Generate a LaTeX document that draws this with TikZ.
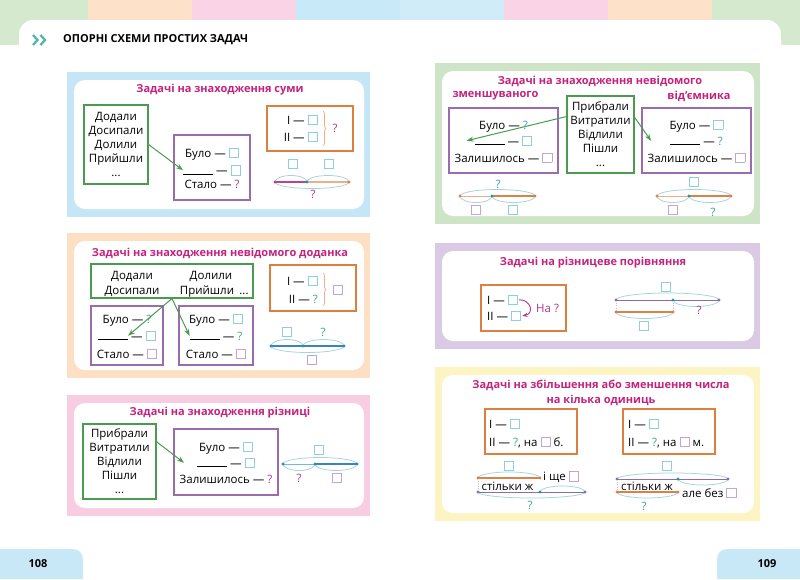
\documentclass[tikz,border=0pt]{standalone}
\usepackage{fontspec}
\setmainfont{Open Sans}
\usetikzlibrary{arrows.meta,decorations.pathreplacing,calc}
\definecolor{ttl}{HTML}{C4237D}
\definecolor{gbox}{HTML}{4A9B50}
\definecolor{pbox}{HTML}{9A6CAB}
\definecolor{obox}{HTML}{DD7F3E}
\definecolor{sqt}{HTML}{8ECFD9}
\definecolor{sqp}{HTML}{C7A3D3}
\definecolor{qg}{HTML}{3DA48E}
\definecolor{qb}{HTML}{3A9FC4}
\definecolor{qm}{HTML}{B0368B}
\definecolor{arcc}{HTML}{A2D4DC}
\definecolor{bracec}{HTML}{EDB08A}
\definecolor{fblue}{HTML}{C5E6F7}
\definecolor{fpeach}{HTML}{FDDFC3}
\definecolor{fpink}{HTML}{F8CDE2}
\definecolor{fgreen}{HTML}{CDE4C7}
\definecolor{flav}{HTML}{DBCAE5}
\definecolor{fyel}{HTML}{FCF5C3}
\definecolor{sgreen}{HTML}{D4E9CE}
\definecolor{sorange}{HTML}{FDE1C8}
\definecolor{spink}{HTML}{F9D4E6}
\definecolor{sblue}{HTML}{C8E9F8}
\definecolor{chev}{HTML}{4DB8A6}
\definecolor{tabc}{HTML}{C8E8F8}
\definecolor{lmag}{HTML}{C0408E}
\definecolor{lpeach}{HTML}{EFAE85}
\definecolor{lblue}{HTML}{3A82C4}
\definecolor{lblue2}{HTML}{7BB6DF}
\definecolor{lorange}{HTML}{DD8145}
\definecolor{lpurp}{HTML}{8F6BAA}
\definecolor{dteal}{HTML}{1C9AA3}
\newcommand\sqT{{\color{sqt}\setlength\fboxsep{0pt}\setlength\fboxrule{0.8pt}\fbox{\rule{0pt}{8.5pt}\hspace{8.5pt}}}}
\newcommand\sqP{{\color{sqp}\setlength\fboxsep{0pt}\setlength\fboxrule{0.8pt}\fbox{\rule{0pt}{8.5pt}\hspace{8.5pt}}}}
\newcommand\qG{\textcolor{qg}{?}}
\newcommand\qB{\textcolor{qb}{?}}
\newcommand\qM{\textcolor{qm}{?}}
\newcommand\blankln{\rule{30pt}{0.6pt}}
\newcommand\bodyf{\fontsize{11.5}{13.5}\selectfont}
\newcommand\ttlf{\fontsize{11}{13}\selectfont\bfseries}
\newcommand\grnf{\fontsize{11.5}{14}\selectfont}
\begin{document}
\begin{tikzpicture}[x=1pt,y=-1pt,
  gbx/.style={draw=gbox,line width=1.1pt,inner sep=0pt,align=center,font=\grnf},
  pbx/.style={draw=pbox,line width=1.1pt,inner sep=0pt},
  obx/.style={draw=obox,line width=1.1pt,inner sep=0pt},
  ttlnode/.style={text=ttl,font=\ttlf,inner sep=0pt},
  tx/.style={font=\bodyf,inner sep=0pt,anchor=base},
  txw/.style={font=\bodyf,inner sep=0pt,anchor=base west},
  txe/.style={font=\bodyf,inner sep=0pt,anchor=base east},
  sqn/.style={draw=sqt,line width=0.8pt,minimum size=9.5pt,inner sep=0pt},
  sqpn/.style={draw=sqp,line width=0.8pt,minimum size=9.5pt,inner sep=0pt},
  qn/.style={font=\bodyf,inner sep=0pt},
  arcl/.style={draw=arcc,line width=0.75pt},
  garr/.style={draw=gbox,line width=1pt,-{Stealth[length=7pt,width=5pt]}},
  marr/.style={draw=qm,line width=0.9pt,-{Stealth[length=5pt,width=4pt]}},
  seg/.style={line width=1.6pt},
  segthin/.style={line width=0.9pt},
  dotl/.style={draw=gray!50,line width=0.6pt,dotted},
  brc/.style={decorate,decoration={brace,amplitude=3pt},draw=bracec,line width=0.7pt},
]
\useasboundingbox (0,0) rectangle (800,579);
\fill[white] (0,0) rectangle (800,579);
% header strips
\fill[sgreen] (0,0) rectangle (88,45);
\fill[sorange] (88,0) rectangle (192,21);
\fill[spink] (192,0) rectangle (296,21);
\fill[sblue] (296,0) rectangle (400,21);
\fill[sblue!85!white] (400,0) rectangle (504,21);
\fill[spink] (504,0) rectangle (608,21);
\fill[sorange] (608,0) rectangle (712,21);
\fill[sgreen] (712,0) rectangle (800,45);
\fill[white,rounded corners=14pt] (19,20) rectangle (781,120);
\draw[chev,line width=2.2pt] (33,35) -- (37.5,40) -- (33,45);
\draw[chev,line width=2.2pt] (40.5,35) -- (45,40) -- (40.5,45);
\node[anchor=west,font=\fontsize{11}{13}\selectfont\bfseries,inner sep=0pt] (hdr) at (63,40) {ОПОРНІ СХЕМИ ПРОСТИХ ЗАДАЧ};
% page tabs
\fill[tabc] (0,579) -- (0,549) -- (73,549) arc[start angle=90,end angle=0,radius=10pt] -- (83,579) -- cycle;
\fill[tabc] (800,579) -- (800,549) -- (727,549) arc[start angle=90,end angle=180,radius=10pt] -- (717,579) -- cycle;
\node[font=\fontsize{11}{13}\selectfont\bfseries,inner sep=0pt] (pn1) at (38,564) {108};
\node[font=\fontsize{11}{13}\selectfont\bfseries,inner sep=0pt] (pn2) at (767,564) {109};

% ===== Panel 1 =====
\fill[fblue] (67,72) rectangle (370,217);
\fill[white,rounded corners=11pt] (74,80) rectangle (364,209);
\node[ttlnode] (t1) at (220,90) {Задачі на знаходження суми};
\node[gbx,minimum width=64pt,minimum height=79pt] (G1) at (116,144.5) {Додали\\Досипали\\Долили\\Прийшли\\...};
\node[pbx,minimum width=76pt,minimum height=65pt] (P1) at (212,167.5) {};
\node[tx] (p1a) at (212,157) {Було — \sqT};
\node[tx] (p1b) at (212,174.5) {\blankln{} — \sqT};
\node[tx] (p1c) at (212,188) {Стало — \qM};
\draw[garr] (G1.east) -- (p1b.west);
\node[obx,minimum width=86pt,minimum height=45pt] (O1) at (310,128.5) {};
\node[txe] (o1a) at (318,124) {I — \sqT};
\node[txe] (o1b) at (318,141) {II — \sqT};
\draw[brc] (323,111) -- (323,146);
\node[qn,text=qm] (o1q) at (335,128) {?};
\node[sqn] (s1q1) at (293,164) {};
\node[sqn] (s1q2) at (329,164) {};
\coordinate (s1a) at (275,182); \coordinate (s1m) at (307,182); \coordinate (s1b) at (349,182);
\draw[arcl] (s1a) arc[start angle=180,end angle=0,x radius=16pt,y radius=6.5pt];
\draw[arcl] (s1m) arc[start angle=180,end angle=0,x radius=21pt,y radius=6.5pt];
\draw[arcl] (s1b) arc[start angle=0,end angle=-180,x radius=37pt,y radius=6.5pt];
\draw[seg,draw=lmag] (s1a) -- (s1m);
\draw[seg,draw=lpeach] (s1m) -- (s1b);
\fill[lmag] (s1a) circle[radius=1.7pt];
\fill[dteal] (s1m) circle[radius=1.7pt];
\fill[lorange] (s1b) circle[radius=1.7pt];
\node[qn,text=qm] (s1q) at (313,194) {?};

% ===== Panel 2 =====
\fill[fpeach] (67,233) rectangle (370,378);
\fill[white,rounded corners=11pt] (74,241) rectangle (364,370);
\node[ttlnode] (t2) at (220,253) {Задачі на знаходження невідомого доданка};
\node[gbx,minimum width=162pt,minimum height=34pt] (G2) at (172,281) {};
\node[tx] (g2a) at (132,279) {Додали};
\node[tx] (g2b) at (132,294) {Досипали};
\node[tx] (g2c) at (211,279) {Долили};
\node[tx] (g2d) at (207,294) {Прийшли};
\node[tx] (g2e) at (244,294) {...};
\node[pbx,minimum width=72pt,minimum height=59pt] (PA) at (127,335.5) {};
\node[tx] (pa1) at (127,323) {Було — \qG};
\node[tx] (pa2) at (127,340) {\blankln{} — \sqT};
\node[tx] (pa3) at (127,358) {Стало — \sqP};
\node[pbx,minimum width=74pt,minimum height=59pt] (PB) at (216,335.5) {};
\node[tx] (pb1) at (216,323) {Було — \sqT};
\node[tx] (pb2) at (216,340) {\blankln{} — \qG};
\node[tx] (pb3) at (216,358) {Стало — \sqP};
\draw[garr] (G2.south) -- ($(pa2.west)+(30,0)$);
\draw[garr] (G2.south) -- (pb2.west);
\node[obx,minimum width=86pt,minimum height=46pt] (O2) at (313,288) {};
\node[txe] (o2a) at (318,285) {I — \sqT};
\node[txe] (o2b) at (318,303) {II — \qG};
\draw[brc] (323,273) -- (323,306);
\node[sqpn] (o2s) at (338,290) {};
\node[sqn] (s2q1) at (287,332) {};
\node[qn,text=qg] (s2q2) at (323,332) {?};
\coordinate (s2a) at (271,346); \coordinate (s2m) at (303,346); \coordinate (s2b) at (344,346);
\draw[arcl] (s2a) arc[start angle=180,end angle=0,x radius=16pt,y radius=6.5pt];
\draw[arcl] (s2m) arc[start angle=180,end angle=0,x radius=20.5pt,y radius=6.5pt];
\draw[arcl] (s2b) arc[start angle=0,end angle=-180,x radius=36.5pt,y radius=6.5pt];
\draw[seg,draw=lblue] (s2a) -- (s2b);
\fill[lblue] (s2a) circle[radius=1.7pt];
\fill[dteal] (s2m) circle[radius=1.7pt];
\fill[lblue] (s2b) circle[radius=1.7pt];
\node[sqpn] (s2q3) at (312,360) {};

% ===== Panel 3 =====
\fill[fpink] (67,395) rectangle (370,516);
\fill[white,rounded corners=11pt] (74,403) rectangle (364,508);
\node[ttlnode] (t3) at (220,413) {Задачі на знаходження різниці};
\node[gbx,minimum width=73pt,minimum height=75pt] (G3) at (119.5,461.5) {Прибрали\\Витратили\\Відлили\\Пішли\\...};
\node[pbx,minimum width=104pt,minimum height=66pt] (P3) at (226,462) {};
\node[tx] (p3a) at (226,451) {Було — \sqT};
\node[tx] (p3b) at (226,467) {\blankln{} — \sqT};
\node[tx] (p3c) at (226,483) {Залишилось — \qM};
\draw[garr] ($(G3.north east)!0.24!(G3.south east)$) -- ([xshift=-13pt]p3b.west);
\node[sqn] (s3q1) at (319,450) {};
\coordinate (s3a) at (283,464); \coordinate (s3m) at (315,464); \coordinate (s3b) at (357,464);
\draw[arcl] (s3a) arc[start angle=180,end angle=0,x radius=37pt,y radius=6.5pt];
\draw[arcl] (s3a) arc[start angle=180,end angle=360,x radius=16pt,y radius=6.5pt];
\draw[arcl] (s3m) arc[start angle=180,end angle=360,x radius=21pt,y radius=6.5pt];
\draw[segthin,draw=lblue2] (s3a) -- (s3m);
\draw[seg,draw=lblue] (s3m) -- (s3b);
\fill[lblue] (s3a) circle[radius=1.7pt];
\fill[dteal] (s3m) circle[radius=1.7pt];
\fill[lblue] (s3b) circle[radius=1.7pt];
\node[qn,text=qm] (s3q2) at (299,478) {?};
\node[sqpn] (s3q3) at (337,478) {};

% ===== Panel 4 =====
\fill[fgreen] (435,63) rectangle (760,224);
\fill[white,rounded corners=11pt] (442,71) rectangle (754,216);
\node[ttlnode] (t4) at (600,81) {Задачі на знаходження невідомого};
\node[ttlnode] (t4a) at (495.5,96) {зменшуваного};
\node[ttlnode] (t4b) at (699,96) {від’ємника};
\node[pbx,minimum width=109pt,minimum height=65pt] (PL) at (503.5,140.5) {};
\node[tx] (pl1) at (503.5,129) {Було — \qB};
\node[tx] (pl2) at (503.5,145) {\blankln{} — \sqT};
\node[tx] (pl3) at (503.5,162) {Залишилось — \sqP};
\node[gbx,minimum width=67pt,minimum height=77pt] (G4) at (600.5,134.5) {Прибрали\\Витратили\\Відлили\\Пішли\\...};
\node[pbx,minimum width=109pt,minimum height=65pt] (PR) at (696.5,140.5) {};
\node[tx] (pr1) at (696.5,129) {Було — \sqT};
\node[tx] (pr2) at (696.5,145) {\blankln{} — \qG};
\node[tx] (pr3) at (696.5,162) {Залишилось — \sqP};
\draw[garr] ($(G4.north west)!0.27!(G4.south west)$) -- ([xshift=-8pt]pl2.west);
\draw[garr] ($(G4.north east)!0.28!(G4.south east)$) -- ([xshift=-19pt]pr2.west);
\node[qn,text=qb] (s4q0) at (498,184) {?};
\coordinate (s4a) at (460,196); \coordinate (s4m) at (492,196); \coordinate (s4b) at (535,196);
\draw[arcl] (s4a) arc[start angle=180,end angle=0,x radius=37.5pt,y radius=6.5pt];
\draw[arcl] (s4a) arc[start angle=180,end angle=360,x radius=16pt,y radius=6.5pt];
\draw[arcl] (s4m) arc[start angle=180,end angle=360,x radius=21.5pt,y radius=6.5pt];
\draw[segthin,draw=lpeach] (s4a) -- (s4m);
\draw[seg,draw=lorange] (s4m) -- (s4b);
\fill[lorange] (s4a) circle[radius=1.7pt];
\fill[dteal] (s4m) circle[radius=1.7pt];
\fill[lorange] (s4b) circle[radius=1.7pt];
\node[sqpn] (s4q1) at (476,210) {};
\node[sqn] (s4q2) at (513,210) {};
\node[sqn] (s5q0) at (694,182) {};
\coordinate (s4c) at (657,196); \coordinate (s4n) at (689,196); \coordinate (s4d) at (731,196);
\draw[arcl] (s4c) arc[start angle=180,end angle=0,x radius=37pt,y radius=6.5pt];
\draw[arcl] (s4c) arc[start angle=180,end angle=360,x radius=16pt,y radius=6.5pt];
\draw[arcl] (s4n) arc[start angle=180,end angle=360,x radius=21pt,y radius=6.5pt];
\draw[segthin,draw=lpeach] (s4c) -- (s4n);
\draw[seg,draw=lorange] (s4n) -- (s4d);
\fill[lorange] (s4c) circle[radius=1.7pt];
\fill[dteal] (s4n) circle[radius=1.7pt];
\fill[lorange] (s4d) circle[radius=1.7pt];
\node[sqpn] (s4q3) at (673,210) {};
\node[qn,text=qg] (s4q4) at (713,212) {?};

% ===== Panel 5 =====
\fill[flav] (435,243) rectangle (760,349);
\fill[white,rounded corners=11pt] (442,251) rectangle (754,341);
\node[ttlnode] (t5) at (593,263) {Задачі на різницеве порівняння};
\node[obx,minimum width=85pt,minimum height=46pt] (O5) at (523.5,308) {};
\node[txw] (o5a) at (487,304) {I — \sqT};
\node[txw] (o5b) at (487,320) {II — \sqT};
\draw[marr] ([xshift=1pt]o5a.east) to[out=0,in=10,looseness=1.9] ([xshift=1pt]o5b.east);
\node[qn,text=qm,anchor=west] (o5t) at (536,308) {На ?};
\node[sqn] (s5q1) at (666,287) {};
\coordinate (s5a) at (616,300); \coordinate (s5m) at (673,300); \coordinate (s5b) at (719,300);
\coordinate (s5c) at (616,312); \coordinate (s5d) at (673,312);
\draw[dotl] (s5a) -- (s5c);
\draw[dotl] (s5m) -- (s5d);
\draw[arcl] (s5a) arc[start angle=180,end angle=0,x radius=51.5pt,y radius=7pt];
\draw[arcl] (s5m) arc[start angle=180,end angle=360,x radius=23pt,y radius=6.5pt];
\draw[arcl] (s5c) arc[start angle=180,end angle=360,x radius=28.5pt,y radius=6.5pt];
\draw[segthin,draw=lpurp] (s5a) -- (s5b);
\draw[seg,draw=lorange] (s5c) -- (s5d);
\fill[lpurp] (s5a) circle[radius=1.6pt];
\fill[dteal] (s5m) circle[radius=1.6pt];
\fill[lpurp] (s5b) circle[radius=1.6pt];
\fill[lorange] (s5c) circle[radius=1.6pt];
\fill[lorange] (s5d) circle[radius=1.6pt];
\node[qn,text=qm] (s5q2) at (699,310) {?};
\node[sqn] (s5q3) at (644,326) {};

% ===== Panel 6 =====
\fill[fyel] (435,367) rectangle (760,521);
\fill[white,rounded corners=11pt] (442,375) rectangle (754,513);
\node[ttlnode] (t6) at (601,385) {Задачі на збільшення або зменшення числа};
\node[ttlnode] (t6a) at (601,400) {на кілька одиниць};
\node[obx,minimum width=92pt,minimum height=45pt] (O6L) at (531,431.5) {};
\node[txw] (o6a) at (489,428) {I — \sqT};
\node[txw] (o6b) at (489,446) {II — \qG, на \sqP{} б.};
\node[obx,minimum width=92pt,minimum height=45pt] (O6R) at (669,431.5) {};
\node[txw] (o6c) at (628,428) {I — \sqT};
\node[txw] (o6d) at (628,446) {II — \qG, на \sqP{} м.};
% left segment
\node[sqn] (s6q1) at (509,466) {};
\coordinate (s6a) at (478,478); \coordinate (s6e) at (540,478);
\coordinate (s6c) at (478,492); \coordinate (s6m) at (540,492); \coordinate (s6b) at (585,492);
\draw[dotl] (s6a) -- (s6c);
\draw[arcl] (s6a) arc[start angle=180,end angle=0,x radius=31pt,y radius=6pt];
\draw[arcl] (s6m) arc[start angle=180,end angle=0,x radius=22.5pt,y radius=6pt];
\draw[arcl] (s6c) arc[start angle=180,end angle=360,x radius=53.5pt,y radius=6pt];
\draw[seg,draw=lorange] (s6a) -- (s6e);
\draw[segthin,draw=lpurp] (s6c) -- (s6b);
\fill[lorange] (s6a) circle[radius=1.6pt];
\fill[lorange] (s6e) circle[radius=1.6pt];
\fill[lpurp] (s6c) circle[radius=1.6pt];
\fill[dteal] (s6m) circle[radius=1.6pt];
\fill[lpurp] (s6b) circle[radius=1.6pt];
\node[qn,anchor=west] (s6t1) at (543,477) {і ще \sqP};
\node[qn] (s6t2) at (507.5,486) {стільки ж};
\node[qn,text=qg] (s6q2) at (530,505) {?};
% right segment
\node[sqn] (s6q3) at (667,466) {};
\coordinate (s7a) at (617,479); \coordinate (s7m) at (678,479); \coordinate (s7b) at (728,479);
\coordinate (s7c) at (617,492); \coordinate (s7d) at (678,492);
\draw[dotl] (s7a) -- (s7c);
\draw[arcl] (s7a) arc[start angle=180,end angle=0,x radius=55.5pt,y radius=6pt];
\draw[arcl] (s7m) arc[start angle=180,end angle=360,x radius=25pt,y radius=6pt];
\draw[arcl] (s7c) arc[start angle=180,end angle=360,x radius=30.5pt,y radius=6pt];
\draw[segthin,draw=lpurp] (s7a) -- (s7b);
\draw[seg,draw=lorange] (s7c) -- (s7d);
\fill[lpurp] (s7a) circle[radius=1.6pt];
\fill[dteal] (s7m) circle[radius=1.6pt];
\fill[lpurp] (s7b) circle[radius=1.6pt];
\fill[lorange] (s7c) circle[radius=1.6pt];
\fill[lorange] (s7d) circle[radius=1.6pt];
\node[qn] (s7t2) at (647,486) {стільки ж};
\node[qn,anchor=west] (s7t1) at (682,493) {але без \sqP};
\node[qn,text=qg] (s7q2) at (644,506) {?};
\end{tikzpicture}
\end{document}
